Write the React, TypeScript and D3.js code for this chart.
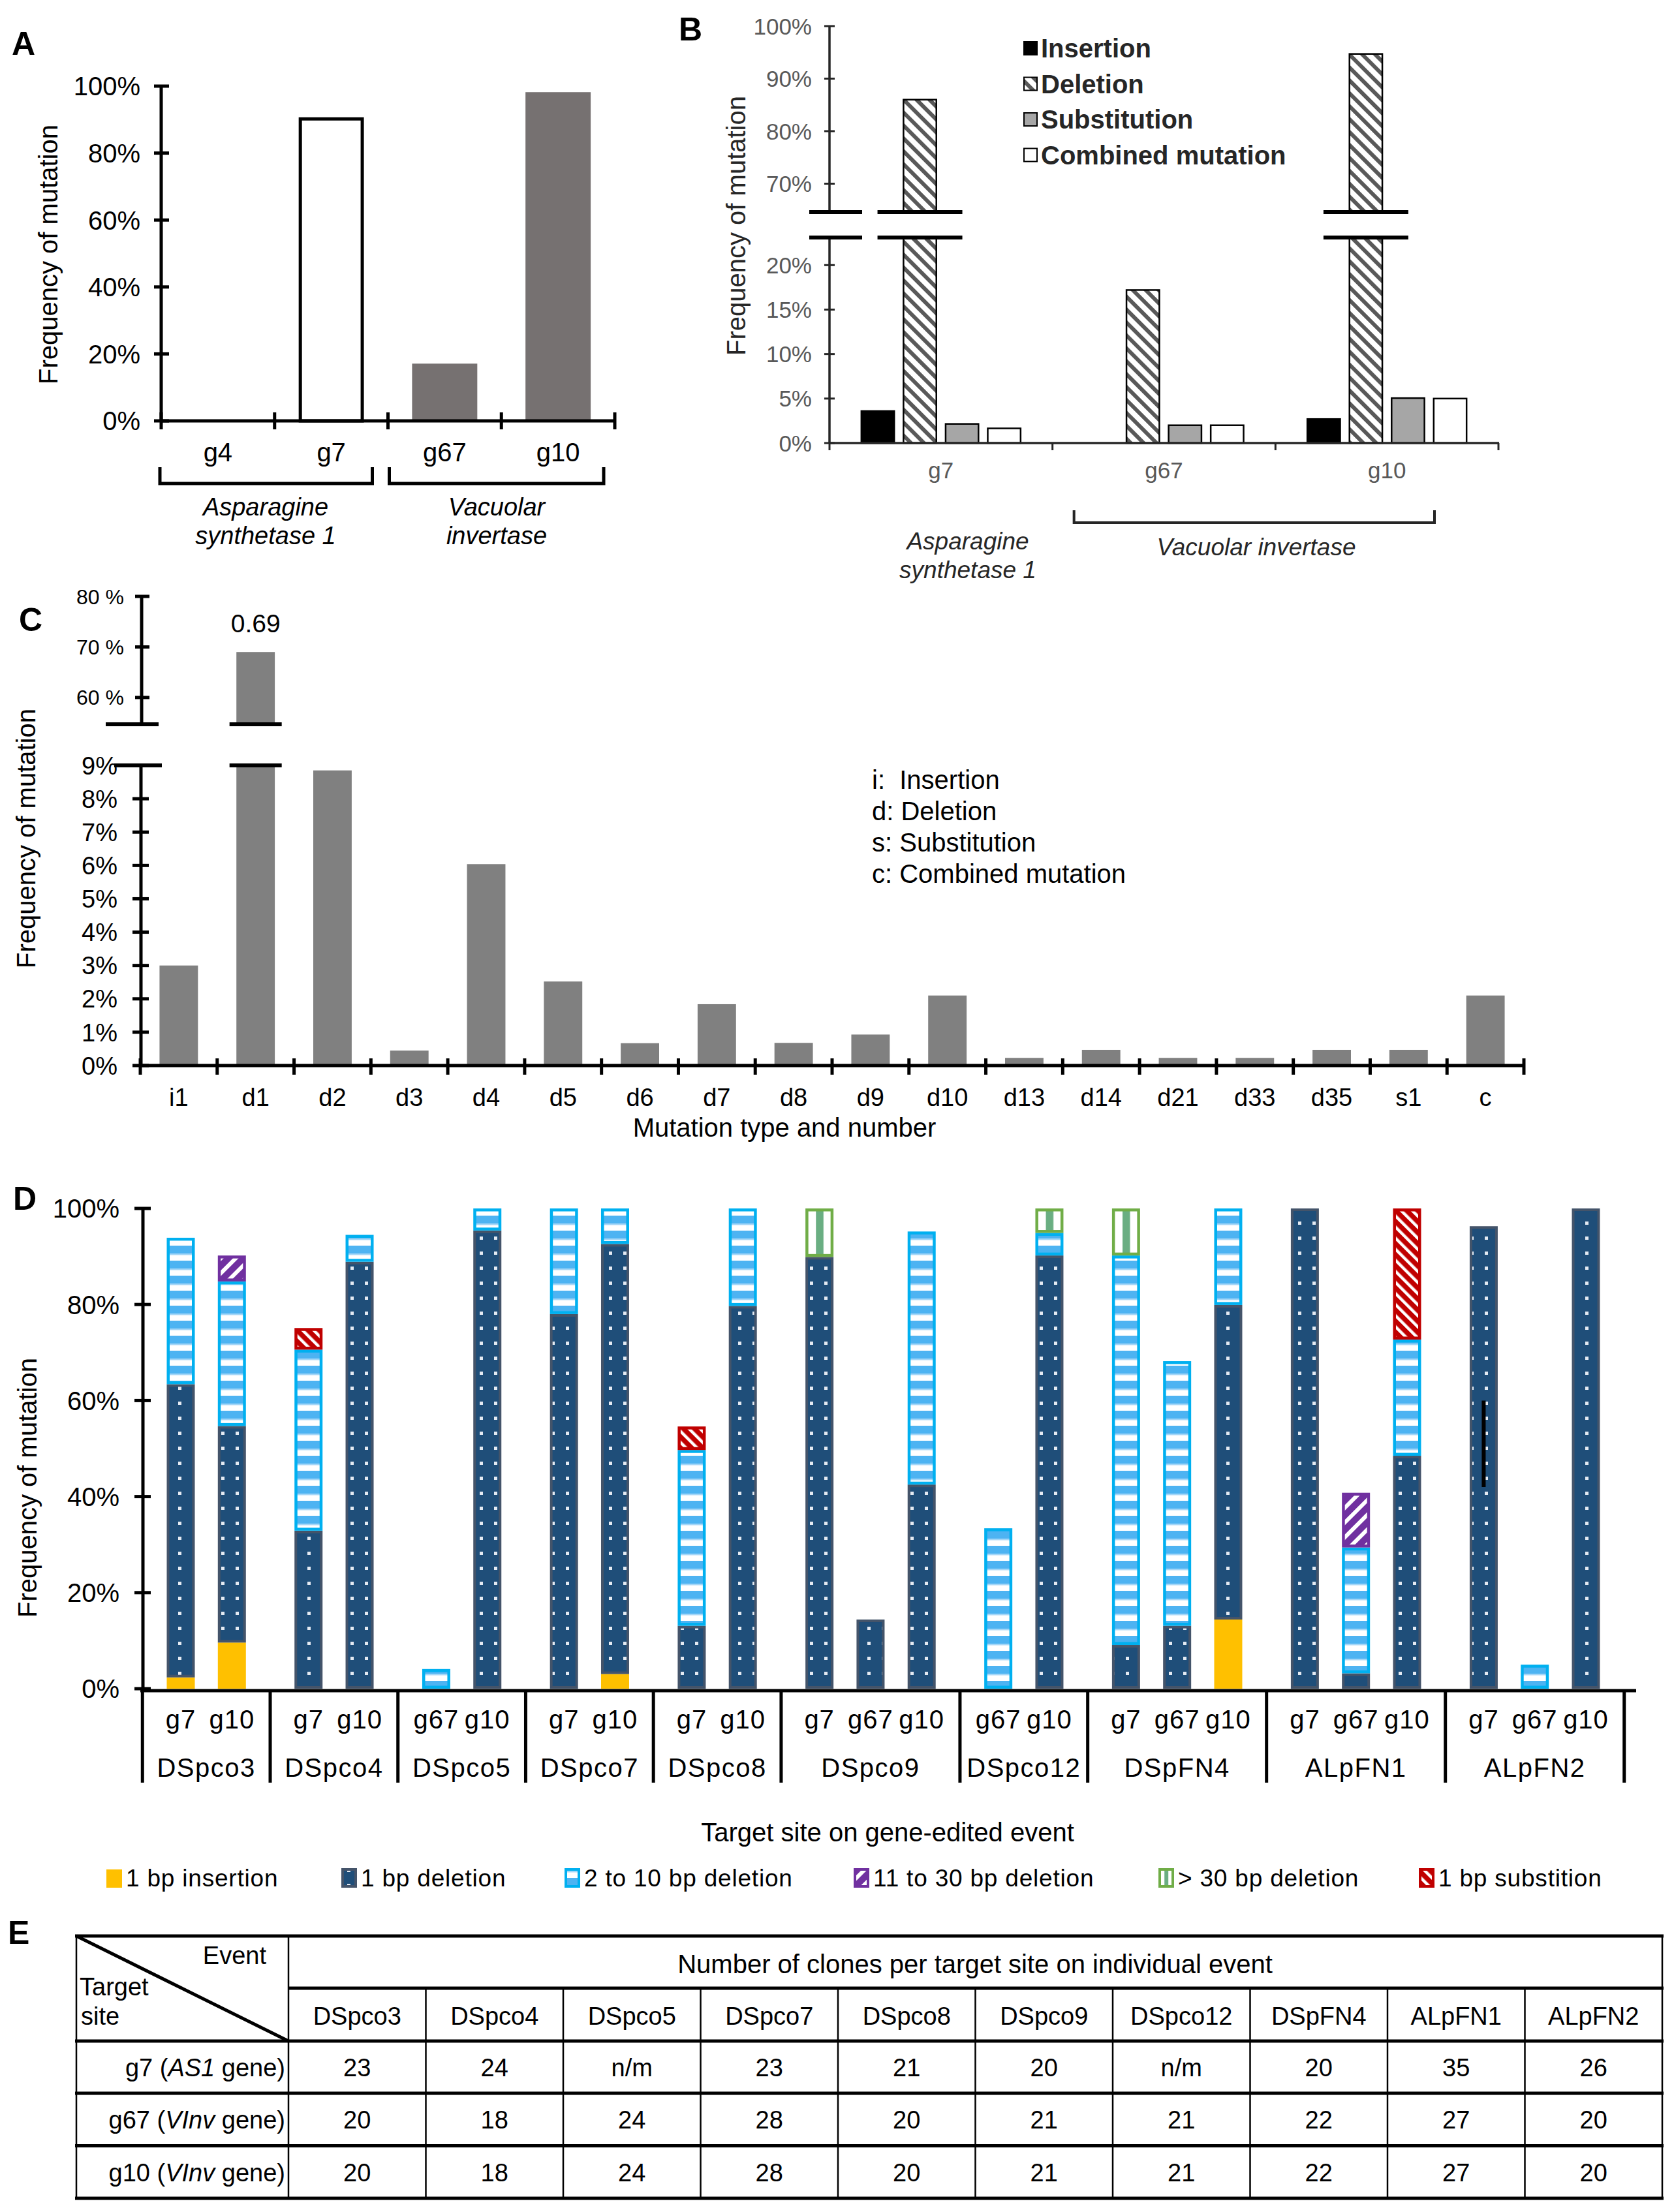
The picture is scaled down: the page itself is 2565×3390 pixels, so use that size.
import React from 'react';
import * as d3 from 'd3';

const FONT = '"Liberation Sans", Arial, Helvetica, sans-serif';

// ---------- Panel A data ----------
const aSites = ['g4', 'g7', 'g67', 'g10'];
const aFreq = [0, 0.907, 0.171, 0.982];
const aTicks = [0, 0.2, 0.4, 0.6, 0.8, 1];

// ---------- Panel B data ----------
const bSites = ['g7', 'g67', 'g10'];
const bTypes = ['Insertion', 'Deletion', 'Substitution', 'Combined mutation'];
const bInsertion = [0.036, 0, 0.027];
const bDeletion = [0.86, 0.172, 0.947];
const bSubstitution = [0.0215, 0.02, 0.0505];
const bCombined = [0.0165, 0.02, 0.05];
const bLowTicks = [0, 0.05, 0.1, 0.15, 0.2];
const bHighTicks = [0.7, 0.8, 0.9, 1];

// ---------- Panel C data ----------
const cTypes = ['i1', 'd1', 'd2', 'd3', 'd4', 'd5', 'd6', 'd7', 'd8', 'd9', 'd10', 'd13', 'd14', 'd21', 'd33', 'd35', 's1', 'c'];
const cFreq = [0.030, 0.69, 0.0885, 0.0045, 0.0604, 0.0252, 0.0067, 0.0184, 0.0068, 0.0093, 0.021, 0.0023, 0.0047, 0.0023, 0.0023, 0.0047, 0.0047, 0.021];
const cLowTicks = [0, 0.01, 0.02, 0.03, 0.04, 0.05, 0.06, 0.07, 0.08, 0.09];
const cHighTicks = [0.6, 0.7, 0.8];
const cLegend = ['i:  Insertion', 'd: Deletion', 's: Substitution', 'c: Combined mutation'];

// ---------- Panel D data ----------
const dEvents = ['DSpco3', 'DSpco4', 'DSpco5', 'DSpco7', 'DSpco8', 'DSpco9', 'DSpco12', 'DSpFN4', 'ALpFN1', 'ALpFN2'];
const dEventOf = [0, 0, 1, 1, 2, 2, 3, 3, 4, 4, 5, 5, 5, 6, 6, 7, 7, 7, 8, 8, 8, 9, 9, 9];
const dSites = ['g7', 'g10', 'g7', 'g10', 'g67', 'g10', 'g7', 'g10', 'g7', 'g10', 'g7', 'g67', 'g10', 'g67', 'g10', 'g7', 'g67', 'g10', 'g7', 'g67', 'g10', 'g7', 'g67', 'g10'];
const insertion1 = [2.35, 9.6, 0, 0, 0, 0, 0, 3.05, 0, 0, 0, 0, 0, 0, 0, 0, 0, 14.4, 0, 0, 0, 0, 0, 0];
const deletion1 = [61.05, 45.1, 32.9, 88.9, 0, 95.4, 78, 89.55, 13.1, 79.7, 89.9, 14.4, 42.5, 0, 90.2, 9.1, 13.1, 65.5, 100, 3.2, 48.5, 96.3, 0, 100];
const deletion2to10 = [30.5, 30.1, 37.7, 5.6, 4.1, 4.6, 22, 7.4, 36.6, 20.3, 0, 0, 52.7, 33.4, 4.7, 81.1, 55.1, 20.1, 0, 26.2, 24.2, 0, 5.0, 0];
const deletion11to30 = [0, 5.4, 0, 0, 0, 0, 0, 0, 0, 0, 0, 0, 0, 0, 0, 0, 0, 0, 0, 11.4, 0, 0, 0, 0];
const deletionOver30 = [0, 0, 0, 0, 0, 0, 0, 0, 0, 0, 10.1, 0, 0, 0, 5.1, 9.8, 0, 0, 0, 0, 0, 0, 0, 0];
const substitution1 = [0, 0, 4.5, 0, 0, 0, 0, 0, 4.9, 0, 0, 0, 0, 0, 0, 0, 0, 0, 0, 0, 27.3, 0, 0, 0];
const dStrayMark = [21, 42, 60]; // bar index, from %, to % (black line drawn in the source figure)
const dTicks = [0, 0.2, 0.4, 0.6, 0.8, 1];
const dLegend = ['1 bp insertion', '1 bp deletion', '2 to 10 bp deletion', '11 to 30 bp deletion', '> 30 bp deletion', '1 bp substition'];

// ---------- Panel E data ----------
const eEvents = ['DSpco3', 'DSpco4', 'DSpco5', 'DSpco7', 'DSpco8', 'DSpco9', 'DSpco12', 'DSpFN4', 'ALpFN1', 'ALpFN2'];
const eRowSites = ['g7', 'g67', 'g10'];
const eRowGenes = ['AS1', 'VInv', 'VInv'];
const eG7 = ['23', '24', 'n/m', '23', '21', '20', 'n/m', '20', '35', '26'];
const eG67 = ['20', '18', '24', '28', '20', '21', '21', '22', '27', '20'];
const eG10 = ['20', '18', '24', '28', '20', '21', '21', '22', '27', '20'];

const pct = d3.format('.0%');

function PanelLabel({ x, y, t }: { x: number; y: number; t: string }) {
  return (
    <text x={x} y={y} fontSize={50} fontWeight="bold" fontFamily={FONT}>{t}</text>
  );
}

function PanelA() {
  const x = d3.scaleBand<string>().domain(aSites).range([247, 942]);
  const y = d3.scaleLinear().domain([0, 1]).range([645, 132]);
  const bw = x.bandwidth() * 0.575;
  const bounds = aSites.map(s => x(s)!).concat([942]);
  return (
    <g fontFamily={FONT}>
      <PanelLabel x={18} y={84} t="A" />
      {aSites.map((s, i) => {
        if (aFreq[i] <= 0) return null;
        const x0 = x(s)! + (x.bandwidth() - bw) / 2;
        const open = s === 'g7';
        return open ? (
          <rect key={s} x={x0 + 2.5} y={y(aFreq[i]) + 2.5} width={bw - 5} height={y(0) - y(aFreq[i]) - 2.5}
            fill="#fff" stroke="#000" strokeWidth={5} />
        ) : (
          <rect key={s} x={x0} y={y(aFreq[i])} width={bw} height={y(0) - y(aFreq[i])} fill="#767171" />
        );
      })}
      <line x1={247} x2={247} y1={y(1)} y2={y(0)} stroke="#000" strokeWidth={5} />
      <line x1={245} x2={944} y1={y(0)} y2={y(0)} stroke="#000" strokeWidth={5} />
      {aTicks.map(t => (
        <g key={t}>
          <line x1={236} x2={259} y1={y(t)} y2={y(t)} stroke="#000" strokeWidth={5} />
          <text x={215} y={y(t)} dy="0.36em" textAnchor="end" fontSize={40}>{pct(t)}</text>
        </g>
      ))}
      {bounds.map((b, i) => (
        <line key={i} x1={b} x2={b} y1={632} y2={658} stroke="#000" strokeWidth={5} />
      ))}
      {aSites.map(s => (
        <text key={s} x={x(s)! + x.bandwidth() / 2} y={707} textAnchor="middle" fontSize={40}>{s}</text>
      ))}
      <path d={`M${x('g4')! - 2},716V741H${x('g7')! + x.bandwidth() - 24}V716`} fill="none" stroke="#000" strokeWidth={5} />
      <path d={`M${x('g67')! + 2},716V741H${x('g10')! + x.bandwidth() - 17}V716`} fill="none" stroke="#000" strokeWidth={5} />
      <text x={407} y={790} textAnchor="middle" fontSize={38} fontStyle="italic">Asparagine</text>
      <text x={407} y={834} textAnchor="middle" fontSize={38} fontStyle="italic">synthetase 1</text>
      <text x={761} y={790} textAnchor="middle" fontSize={38} fontStyle="italic">Vacuolar</text>
      <text x={761} y={834} textAnchor="middle" fontSize={38} fontStyle="italic">invertase</text>
      <text transform="translate(88,390) rotate(-90)" textAnchor="middle" fontSize={40}>Frequency of mutation</text>
    </g>
  );
}

function PanelB() {
  const x = d3.scaleBand<string>().domain(bSites).range([1271, 2296]);
  const xi = d3.scaleBand<string>().domain(bTypes).range([-122, 122]).paddingInner(0.22);
  const y = d3.scaleLinear().domain([0, 0.231, 0.646, 1]).range([679, 364, 325, 40]);
  const series = [bInsertion, bDeletion, bSubstitution, bCombined];
  const fills = ['#000', 'url(#bHatch)', '#A6A6A6', '#fff'];
  const breakTop = y(0.646);
  const breakBot = y(0.231);
  const bounds = bSites.map(s => x(s)!).concat([2296]);
  return (
    <g fontFamily={FONT}>
      <PanelLabel x={1040} y={62} t="B" />
      {bSites.map((s, si) =>
        series.map((vals, ti) => {
          const v = vals[si];
          if (v <= 0) return null;
          const cx = x(s)! + x.bandwidth() / 2;
          return (
            <rect key={s + ti} x={cx + xi(bTypes[ti])!} y={y(v)} width={xi.bandwidth()} height={y(0) - y(v)}
              fill={fills[ti]} stroke="#000" strokeWidth={2.5} />
          );
        })
      )}
      <line x1={1271} x2={1271} y1={y(1)} y2={breakTop} stroke="#262626" strokeWidth={3.5} />
      <line x1={1271} x2={1271} y1={breakBot} y2={y(0)} stroke="#262626" strokeWidth={3.5} />
      {bLowTicks.concat(bHighTicks).map(t => (
        <g key={t}>
          <line x1={1263} x2={1279} y1={y(t)} y2={y(t)} stroke="#262626" strokeWidth={3} />
          <text x={1244} y={y(t)} dy="0.36em" textAnchor="end" fontSize={35} fill="#595959">{pct(t)}</text>
        </g>
      ))}
      <line x1={1271} x2={2297} y1={y(0)} y2={y(0)} stroke="#262626" strokeWidth={3.5} />
      {bounds.map((b, i) => (
        <line key={i} x1={b} x2={b} y1={y(0)} y2={y(0) + 11} stroke="#262626" strokeWidth={3} />
      ))}
      <rect x={1236} y={breakTop + 2} width={90} height={breakBot - breakTop - 4} fill="#fff" />
      <line x1={1240} x2={1321} y1={breakTop} y2={breakTop} stroke="#000" strokeWidth={6} />
      <line x1={1240} x2={1321} y1={breakBot} y2={breakBot} stroke="#000" strokeWidth={6} />
      {bSites.map((s, si) => {
        if (bDeletion[si] < 0.231) return null;
        const cx = x(s)! + x.bandwidth() / 2 + xi('Deletion')! + xi.bandwidth() / 2;
        return (
          <g key={s}>
            <rect x={cx - 40} y={breakTop + 2} width={80} height={breakBot - breakTop - 4} fill="#fff" />
            <line x1={cx - 65} x2={cx + 65} y1={breakTop} y2={breakTop} stroke="#000" strokeWidth={6} />
            <line x1={cx - 65} x2={cx + 65} y1={breakBot} y2={breakBot} stroke="#000" strokeWidth={6} />
          </g>
        );
      })}
      {bSites.map(s => (
        <text key={s} x={x(s)! + x.bandwidth() / 2} y={733} textAnchor="middle" fontSize={35} fill="#595959">{s}</text>
      ))}
      <path d={`M${x('g67')! + 33},782V801H${x('g10')! + x.bandwidth() - 98}V782`} fill="none" stroke="#262626" strokeWidth={4} />
      <text x={1483} y={842} textAnchor="middle" fontSize={37} fontStyle="italic" fill="#262626">Asparagine</text>
      <text x={1483} y={886} textAnchor="middle" fontSize={37} fontStyle="italic" fill="#262626">synthetase 1</text>
      <text x={1925} y={851} textAnchor="middle" fontSize={37} fontStyle="italic" fill="#262626">Vacuolar invertase</text>
      {bTypes.map((t, i) => (
        <g key={t} transform={`translate(1569,${74 + i * 54.5})`}>
          <rect x={0} y={-10} width={20} height={20} fill={fills[i]} stroke="#000" strokeWidth={2} />
          <text x={26} y={0} dy="0.36em" fontSize={40} fontWeight="bold" fill="#262626">{t}</text>
        </g>
      ))}
      <text transform="translate(1142,346) rotate(-90)" textAnchor="middle" fontSize={40} fill="#262626">Frequency of mutation</text>
    </g>
  );
}

function PanelC() {
  const x = d3.scaleBand<string>().domain(cTypes).range([215, 2335]);
  const y = d3.scaleLinear().domain([0, 0.09, 0.547, 0.8]).range([1633, 1173, 1110, 914]);
  const bw = x.bandwidth() * 0.5;
  const breakTop = y(0.547);
  const breakBot = y(0.09);
  const bounds = cTypes.map(c => x(c)!).concat([2335]);
  const d1c = x('d1')! + x.bandwidth() / 2;
  return (
    <g fontFamily={FONT}>
      <PanelLabel x={29} y={967} t="C" />
      {cTypes.map((c, i) => (
        <rect key={c} x={x(c)! + (x.bandwidth() - bw) / 2} y={y(cFreq[i])} width={bw} height={y(0) - y(cFreq[i])} fill="#808080" />
      ))}
      <rect x={d1c - 45} y={breakTop + 3} width={90} height={breakBot - breakTop - 6} fill="#fff" />
      <text x={d1c} y={969} textAnchor="middle" fontSize={39}>{cFreq[1].toFixed(2)}</text>
      <line x1={217} x2={217} y1={y(0.8)} y2={breakTop} stroke="#000" strokeWidth={5} />
      <line x1={216} x2={216} y1={breakBot} y2={y(0)} stroke="#000" strokeWidth={5} />
      {cHighTicks.map(t => (
        <g key={t}>
          <line x1={207} x2={229} y1={y(t)} y2={y(t)} stroke="#000" strokeWidth={5} />
          <text x={190} y={y(t)} dy="0.36em" textAnchor="end" fontSize={32}>{`${Math.round(t * 100)} %`}</text>
        </g>
      ))}
      {cLowTicks.map(t => (
        <g key={t}>
          <line x1={203} x2={228} y1={y(t)} y2={y(t)} stroke="#000" strokeWidth={5} />
          <text x={180} y={y(t)} dy="0.36em" textAnchor="end" fontSize={38}>{pct(t)}</text>
        </g>
      ))}
      <line x1={162} x2={243} y1={breakTop} y2={breakTop} stroke="#000" strokeWidth={6} />
      <line x1={175} x2={248} y1={breakBot} y2={breakBot} stroke="#000" strokeWidth={6} />
      <line x1={d1c - 40} x2={d1c + 40} y1={breakTop} y2={breakTop} stroke="#000" strokeWidth={6} />
      <line x1={d1c - 40} x2={d1c + 40} y1={breakBot} y2={breakBot} stroke="#000" strokeWidth={6} />
      <line x1={213} x2={2337} y1={y(0)} y2={y(0)} stroke="#000" strokeWidth={5} />
      {bounds.map((b, i) => (
        <line key={i} x1={b} x2={b} y1={1622} y2={1647} stroke="#000" strokeWidth={5} />
      ))}
      {cTypes.map(c => (
        <text key={c} x={x(c)! + x.bandwidth() / 2} y={1695} textAnchor="middle" fontSize={38}>{c}</text>
      ))}
      <text x={1202} y={1742} textAnchor="middle" fontSize={40}>Mutation type and number</text>
      {cLegend.map((t, i) => (
        <text key={t} x={1336} y={1209 + i * 48} fontSize={40} xmlSpace="preserve">{t}</text>
      ))}
      <text transform="translate(54,1285) rotate(-90)" textAnchor="middle" fontSize={40}>Frequency of mutation</text>
    </g>
  );
}

const segKeys = ['ins', 'del1', 'del2', 'del11', 'del30', 'sub'];
const segFill: Record<string, string> = {
  ins: '#FFC000', del1: 'url(#dDots)', del2: 'url(#dStripes)', del11: 'url(#dPurple)', del30: 'url(#dGreen)', sub: 'url(#dRed)',
};
const segStroke: Record<string, string | null> = {
  ins: null, del1: '#44546A', del2: '#00B0F0', del11: '#7030A0', del30: '#70AD47', sub: '#C00000',
};

function PanelD() {
  const slot = dEventOf.map((g, i) => i + 0.5 * g);
  const x = d3.scaleLinear().domain([0, 27.5]).range([277, 2430]);
  const y = d3.scaleLinear().domain([0, 1]).range([2588, 1852]);
  const bw = 43;
  const rows = dSites.map((_, i) => ({
    ins: insertion1[i] / 100, del1: deletion1[i] / 100, del2: deletion2to10[i] / 100,
    del11: deletion11to30[i] / 100, del30: deletionOver30[i] / 100, sub: substitution1[i] / 100,
  }));
  const stacked = d3.stack<any>().keys(segKeys)(rows);
  const groupEdges = dEvents.map((_, g) => {
    const idx = dEventOf.map((e, i) => (e === g ? i : -1)).filter(i => i >= 0);
    return [x(slot[idx[0]] - 0.75), x(slot[idx[idx.length - 1]] + 0.75)];
  });
  const seps = groupEdges.map(e => e[0]).concat([groupEdges[groupEdges.length - 1][1]]);
  const legendX = [163, 523, 865, 1308, 1775, 2174];
  return (
    <g fontFamily={FONT}>
      <PanelLabel x={20} y={1854} t="D" />
      {stacked.map(layer => (
        <g key={layer.key}>
          {layer.map((d, i) => {
            const h = y(d[0]) - y(d[1]);
            if (h <= 0.5) return null;
            const st = segStroke[layer.key];
            const sw = layer.key === 'del1' ? 4 : 4.5;
            const x0 = x(slot[i]) - bw / 2;
            if (!st) return <rect key={i} x={x0} y={y(d[1])} width={bw} height={h} fill={segFill[layer.key]} />;
            return (
              <rect key={i} x={x0 + sw / 2} y={y(d[1]) + sw / 2} width={bw - sw} height={Math.max(h - sw, 0.5)}
                fill={segFill[layer.key]} stroke={st} strokeWidth={sw} />
            );
          })}
        </g>
      ))}
      <line x1={x(slot[dStrayMark[0]])} x2={x(slot[dStrayMark[0]])} y1={y(dStrayMark[1] / 100)} y2={y(dStrayMark[2] / 100)}
        stroke="#000" strokeWidth={6} />
      <line x1={219} x2={219} y1={y(1)} y2={y(0)} stroke="#000" strokeWidth={5} />
      {dTicks.map(t => (
        <g key={t}>
          <line x1={206} x2={231} y1={y(t)} y2={y(t)} stroke="#000" strokeWidth={5} />
          <text x={183} y={y(t)} dy="0.36em" textAnchor="end" fontSize={40}>{pct(t)}</text>
        </g>
      ))}
      <line x1={215} x2={2507} y1={2591} y2={2591} stroke="#000" strokeWidth={5} />
      {seps.map((s, i) => (
        <line key={i} x1={s} x2={s} y1={2589} y2={2732} stroke="#000" strokeWidth={5} />
      ))}
      {dSites.map((s, i) => (
        <text key={i} x={x(slot[i])} y={2649} textAnchor="middle" fontSize={40} letterSpacing={1}>{s}</text>
      ))}
      {dEvents.map((e, g) => (
        <text key={e} x={(groupEdges[g][0] + groupEdges[g][1]) / 2} y={2723} textAnchor="middle" fontSize={40} letterSpacing={1.5}>{e}</text>
      ))}
      <text x={1360} y={2822} textAnchor="middle" fontSize={40}>Target site on gene-edited event</text>
      {dLegend.map((t, i) => (
        <g key={t} transform={`translate(${legendX[i]},2878)`}>
          <rect x={segStroke[segKeys[i]] ? 2 : 0} y={-13} width={segStroke[segKeys[i]] ? 20 : 24} height={segStroke[segKeys[i]] ? 26 : 28}
            fill={segFill[segKeys[i]]} stroke={segStroke[segKeys[i]] || 'none'} strokeWidth={4} />
          <text x={30} y={0} dy="0.36em" fontSize={37} letterSpacing={0.8}>{t}</text>
        </g>
      ))}
      <text transform="translate(56,2280) rotate(-90)" textAnchor="middle" fontSize={40}>Frequency of mutation</text>
    </g>
  );
}

function PanelE() {
  const cx = d3.scaleBand<string>().domain(eEvents).range([442, 2547]);
  const ry = d3.scaleBand<string>().domain(['events'].concat(eRowSites)).range([3047, 3369]);
  const rowVals = [eG7, eG67, eG10];
  const hLines = [2967, 3128].concat(eRowSites.map(r => ry(r)! + ry.bandwidth()));
  return (
    <g fontFamily={FONT} fontSize={38}>
      <PanelLabel x={12} y={2979} t="E" />
      {hLines.map((yy, i) => (
        <line key={i} x1={115} x2={2549} y1={yy} y2={yy} stroke="#000" strokeWidth={5} />
      ))}
      <line x1={442} x2={2549} y1={3047} y2={3047} stroke="#000" strokeWidth={5} />
      <line x1={117} x2={117} y1={2967} y2={3369} stroke="#000" strokeWidth={2.5} />
      <line x1={442} x2={442} y1={2967} y2={3369} stroke="#000" strokeWidth={2.5} />
      <line x1={2547} x2={2547} y1={2967} y2={3369} stroke="#000" strokeWidth={2.5} />
      {eEvents.slice(1).map(e => (
        <line key={e} x1={cx(e)} x2={cx(e)} y1={3047} y2={3369} stroke="#000" strokeWidth={2.5} />
      ))}
      <line x1={117} x2={442} y1={2967} y2={3128} stroke="#000" strokeWidth={5} />
      <text x={408} y={3010} textAnchor="end">Event</text>
      <text x={122} y={3058}>Target</text>
      <text x={124} y={3103}>site</text>
      <text x={1494} y={3024} textAnchor="middle" fontSize={40}>Number of clones per target site on individual event</text>
      {eEvents.map(e => (
        <text key={e} x={cx(e)! + cx.bandwidth() / 2} y={3103} textAnchor="middle">{e}</text>
      ))}
      {eRowSites.map((r, ri) => (
        <g key={r}>
          <text x={437} y={ry(r)! + ry.bandwidth() / 2 + 14} textAnchor="end">
            {`${r} (`}<tspan fontStyle="italic">{eRowGenes[ri]}</tspan>{' gene)'}
          </text>
          {eEvents.map((e, ci) => (
            <text key={e} x={cx(e)! + cx.bandwidth() / 2} y={ry(r)! + ry.bandwidth() / 2 + 14} textAnchor="middle">{rowVals[ri][ci]}</text>
          ))}
        </g>
      ))}
    </g>
  );
}

function Defs() {
  return (
    <defs>
      <pattern id="bHatch" patternUnits="userSpaceOnUse" width={14} height={14} patternTransform="rotate(-45)">
        <rect width={14} height={14} fill="#fff" />
        <rect width={6} height={14} fill="#595959" />
      </pattern>
      <pattern id="dDots" patternUnits="userSpaceOnUse" width={22} height={23}>
        <rect width={22} height={23} fill="#1F4E79" />
        <rect x={9} y={9} width={5} height={5} fill="#E4EAF2" />
      </pattern>
      <pattern id="dStripes" patternUnits="userSpaceOnUse" width={20} height={23}>
        <rect width={20} height={23} fill="#fff" />
        <rect width={20} height={12} fill="#4DB3F2" />
        <rect y={12} width={20} height={2.5} fill="#A4D6F7" />
      </pattern>
      <pattern id="dPurple" patternUnits="userSpaceOnUse" width={16} height={16} patternTransform="rotate(45)">
        <rect width={16} height={16} fill="#7030A0" />
        <rect width={6} height={16} fill="#fff" />
      </pattern>
      <pattern id="dRed" patternUnits="userSpaceOnUse" width={12} height={12} patternTransform="rotate(-45)">
        <rect width={12} height={12} fill="#C00000" />
        <rect width={4.5} height={12} fill="#fff" />
      </pattern>
      <pattern id="dGreen" patternUnits="objectBoundingBox" patternContentUnits="objectBoundingBox" width={1} height={1}>
        <rect width={1} height={1} fill="#fff" />
        <rect x={0.36} width={0.3} height={1} fill="#6AAE82" />
      </pattern>
    </defs>
  );
}

export default function App() {
  return (
    <svg width={2565} height={3390} viewBox="0 0 2565 3390"
      style={{ position: 'absolute', left: 0, top: 0, background: '#fff' }}>
      <rect width={2565} height={3390} fill="#fff" />
      <Defs />
      <PanelA />
      <PanelB />
      <PanelC />
      <PanelD />
      <PanelE />
    </svg>
  );
}
